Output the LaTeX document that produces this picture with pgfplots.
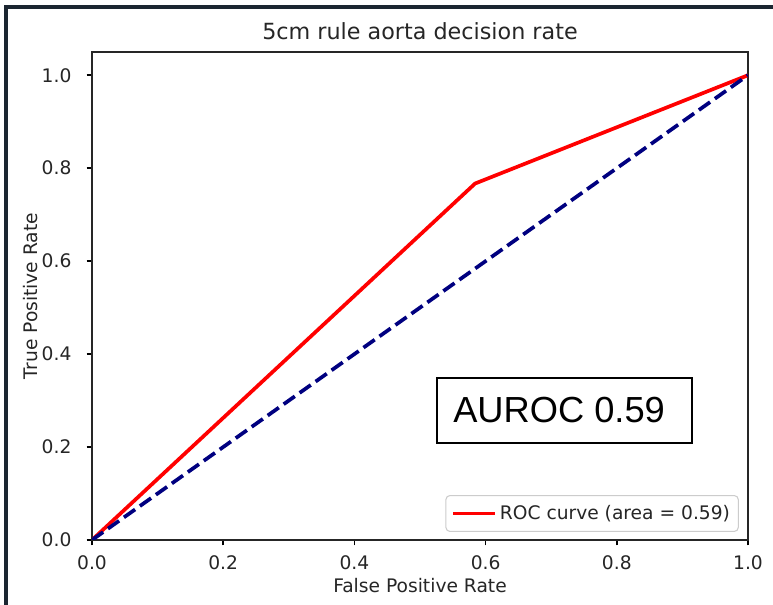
\documentclass[border=0pt]{standalone}
\usepackage{fontspec}
\setmainfont{DejaVu Sans}
\newfontfamily\arialfont{Liberation Sans}
\usepackage{pgfplots}
\pgfplotsset{compat=1.18}
\definecolor{framecol}{HTML}{1B2631}
\definecolor{navyc}{HTML}{000080}
\newcommand\tfont{\fontsize{14}{16.8}\selectfont}
\newcommand\ttlfont{\fontsize{16.7}{20}\selectfont}
\begin{document}
\begin{tikzpicture}[x=0.75pt,y=0.75pt]
\useasboundingbox (0,0) rectangle (773,605);
\fill[white] (0,0) rectangle (773,605);
\draw[line width=3pt, framecol] (6,0) -- (6,598) -- (773,598);
\begin{axis}[
  at={(69pt,48.75pt)}, anchor=south west, scale only axis,
  width=492pt, height=366pt,
  xmin=0, xmax=1, ymin=0, ymax=1.05,
  xtick={0,0.2,0.4,0.6,0.8,1}, ytick={0,0.2,0.4,0.6,0.8,1},
  xtick pos=bottom, ytick pos=left,
  tick align=outside, major tick length=4pt,
  tick style={line width=1.1pt, black},
  axis line style={line width=1.1pt, black!85},
  /pgf/number format/fixed, /pgf/number format/fixed zerofill,
  /pgf/number format/precision=1, /pgf/number format/assume math mode=true,
  xticklabel style={font=\tfont, anchor=north, inner sep=0pt, yshift=-7.5pt, text=black!85},
  yticklabel style={font=\tfont, anchor=east, inner sep=0pt, xshift=-11.25pt, text=black!85},
  title={5cm rule aorta decision rate},
  title style={font=\ttlfont, at={(axis description cs:0.5,1.009)}, anchor=base, inner sep=0pt, text=black!85},
  xlabel={False Positive Rate},
  xlabel style={font=\tfont, at={(axis description cs:0.5,-0.107)}, anchor=base, inner sep=0pt, text=black!85},
  ylabel={True Positive Rate},
  ylabel style={font=\tfont, at={(axis description cs:-0.0838,0.5)}, anchor=base, rotate=0, inner sep=0pt, text=black!85},
  legend style={at={(0.986,0.0164)}, anchor=south east, draw=black!20, line width=0.8pt,
    rounded corners=3pt, fill=white, font=\tfont, inner xsep=4.2pt, inner ysep=5.4pt, text=black!85},
  legend cell align=left,
  legend image code/.code={\draw[#1] (0pt,0pt) -- (31.5pt,0pt);},
]
\addplot[red, line width=2.77pt] coordinates {(0,0) (0.584,0.767) (1,1)};
\addlegendentry{ROC curve (area = 0.59)}
\addplot[navyc, line width=2.77pt, dash pattern=on 10.25pt off 4.43pt, forget plot] coordinates {(0,0) (1,1)};
\end{axis}
\draw[line width=1.1pt, fill=white] (437,162) rectangle (692,227);
\node[font=\arialfont\fontsize{27.2}{32}\selectfont, anchor=base west, inner sep=0pt] at (453,182) {AUROC 0.59};
\end{tikzpicture}
\end{document}
